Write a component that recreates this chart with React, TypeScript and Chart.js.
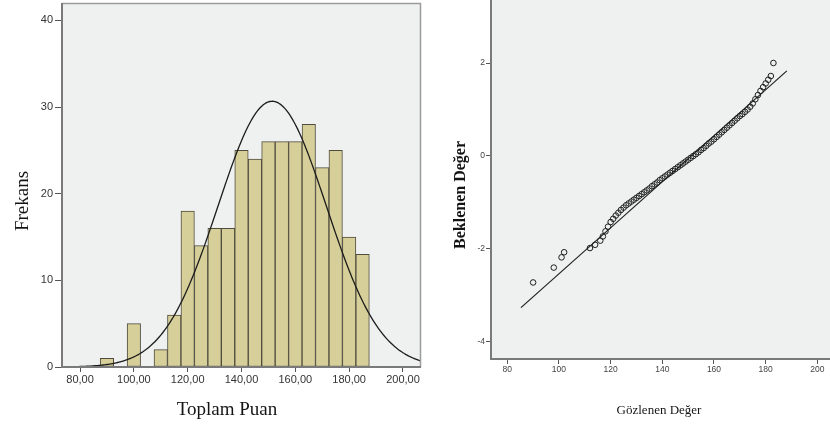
import React, { useEffect, useRef } from "react";
import { Chart, registerables } from "chart.js";

Chart.register(...registerables);

// ---------- Histogram data ----------
const BIN_CENTERS = [90, 95, 100, 105, 110, 115, 120, 125, 130, 135, 140, 145, 150, 155, 160, 165, 170, 175, 180, 185];
const BIN_COUNTS = [1, 0, 5, 0, 2, 6, 18, 14, 16, 16, 25, 24, 26, 26, 26, 28, 23, 25, 15, 13];
const HIST_X_TICKS = [80, 100, 120, 140, 160, 180, 200];
const HIST_X_LABELS = ["80,00", "100,00", "120,00", "140,00", "160,00", "180,00", "200,00"];
const HIST_Y_TICKS = [0, 10, 20, 30, 40];
const NORMAL_MEAN = 151.4;
const NORMAL_SD = 20.1;
const NORMAL_N = 309;
const BIN_WIDTH = 5;

// ---------- Q-Q plot data ----------
const QQ_OBSERVED = [
  90, 98, 101, 102, 112, 114, 116, 117, 118, 119, 120, 121, 122, 123, 124, 125, 126, 127, 128, 129,
  130, 131, 132, 133, 134, 135, 136, 137, 138, 139, 140, 141, 142, 143, 144, 145, 146, 147, 148, 149,
  150, 151, 152, 153, 154, 155, 156, 157, 158, 159, 160, 161, 162, 163, 164, 165, 166, 167, 168, 169,
  170, 171, 172, 173, 174, 175, 176, 177, 178, 179, 180, 181, 182, 183,
];
const QQ_EXPECTED = [
  -2.72, -2.4, -2.18, -2.07, -1.98, -1.91, -1.82, -1.73, -1.62, -1.52, -1.42, -1.35, -1.28, -1.22, -1.16, -1.11, -1.06, -1.02, -0.98, -0.94,
  -0.9, -0.86, -0.82, -0.78, -0.74, -0.7, -0.65, -0.61, -0.57, -0.52, -0.48, -0.44, -0.4, -0.36, -0.32, -0.28, -0.24, -0.2, -0.16, -0.12,
  -0.08, -0.04, 0.0, 0.04, 0.08, 0.13, 0.17, 0.22, 0.27, 0.31, 0.36, 0.41, 0.46, 0.51, 0.56, 0.61, 0.66, 0.71, 0.76, 0.81,
  0.86, 0.9, 0.95, 1.0, 1.06, 1.13, 1.22, 1.31, 1.4, 1.48, 1.56, 1.64, 1.72, 2.0,
];
const QQ_LINE_X = [85.3, 188.2];
const QQ_LINE_Y = [-3.26, 1.83];
const QQ_X_TICKS = [80, 100, 120, 140, 160, 180, 200];
const QQ_Y_TICKS = [-4, -2, 0, 2];

// ---------- Text ----------
const HIST_X_TITLE = "Toplam Puan";
const HIST_Y_TITLE = "Frekans";
const QQ_X_TITLE = "Gözlenen Değer";
const QQ_Y_TITLE = "Beklenen Değer";

const TICK_FONT = "'Liberation Sans', Arial, sans-serif";
const TITLE_FONT = "'Liberation Serif', 'Times New Roman', serif";
const PLOT_BG = "#eff0f0";

type TitleSpec = { text: string; x: number; y: number; font: string; rotate?: boolean };

function makeFramePlugin(titles: TitleSpec[], drawTopRight: boolean) {
  return {
    id: "frameAndTitles",
    beforeDraw(chart: any) {
      const { ctx, chartArea: a } = chart;
      ctx.save();
      ctx.fillStyle = PLOT_BG;
      ctx.fillRect(a.left, a.top, a.right - a.left, a.bottom - a.top);
      ctx.restore();
    },
    afterDraw(chart: any) {
      const { ctx, chartArea: a } = chart;
      ctx.save();
      if (drawTopRight) {
        ctx.strokeStyle = "#9c9c9c";
        ctx.lineWidth = 1.5;
        ctx.beginPath();
        ctx.moveTo(a.left, a.top + 0.5);
        ctx.lineTo(a.right - 0.5, a.top + 0.5);
        ctx.lineTo(a.right - 0.5, a.bottom);
        ctx.stroke();
      }
      ctx.strokeStyle = "#7a7a7a";
      ctx.lineWidth = 2;
      ctx.beginPath();
      ctx.moveTo(a.left, a.top);
      ctx.lineTo(a.left, a.bottom);
      ctx.lineTo(a.right, a.bottom);
      ctx.stroke();
      for (const t of titles) {
        ctx.save();
        ctx.font = t.font;
        ctx.fillStyle = "#141414";
        ctx.textAlign = "center";
        ctx.textBaseline = "alphabetic";
        ctx.translate(t.x, t.y);
        if (t.rotate) ctx.rotate(-Math.PI / 2);
        ctx.fillText(t.text, 0, 0);
        ctx.restore();
      }
      ctx.restore();
    },
  };
}

function fixX(height: number) {
  return (s: any) => {
    s.height = height;
    s.paddingLeft = 0;
    s.paddingRight = 0;
    s.paddingTop = 0;
    s.paddingBottom = 0;
  };
}

function fixY(width: number) {
  return (s: any) => {
    s.width = width;
    s.paddingLeft = 0;
    s.paddingRight = 0;
    s.paddingTop = 0;
    s.paddingBottom = 0;
  };
}

function normalCurve() {
  const pts: { x: number; y: number }[] = [];
  const k = (NORMAL_N * BIN_WIDTH) / (NORMAL_SD * Math.sqrt(2 * Math.PI));
  for (let x = 72; x <= 208; x += 0.5) {
    const z = (x - NORMAL_MEAN) / NORMAL_SD;
    pts.push({ x, y: k * Math.exp(-0.5 * z * z) });
  }
  return pts;
}

function histConfig(): any {
  return {
    type: "bar",
    data: {
      datasets: [
        {
          type: "line",
          data: normalCurve(),
          borderColor: "#1c1c1c",
          borderWidth: 1.3,
          pointRadius: 0,
          order: 0,
        },
        {
          type: "bar",
          data: BIN_CENTERS.map((x, i) => ({ x, y: BIN_COUNTS[i] })),
          backgroundColor: "#d7cf99",
          borderColor: "#4f4c3e",
          borderWidth: 1,
          borderSkipped: false,
          barPercentage: 1,
          categoryPercentage: 1,
          order: 1,
        },
      ],
    },
    options: {
      responsive: false,
      animation: false,
      devicePixelRatio: 1,
      layout: { autoPadding: false, padding: { left: 0, top: 3, right: 4, bottom: 0 } },
      plugins: { legend: { display: false }, tooltip: { enabled: false } },
      scales: {
        x: {
          type: "linear",
          min: 73.3,
          max: 206.7,
          offset: false,
          afterBuildTicks: (s: any) => {
            s.ticks = HIST_X_TICKS.map((v) => ({ value: v }));
          },
          afterFit: fixX(61),
          grid: { drawOnChartArea: false, drawTicks: true, tickLength: 5, color: "#555", offset: false },
          border: { display: false },
          ticks: {
            font: { family: TICK_FONT, size: 11 },
            color: "#333",
            padding: 1,
            maxRotation: 0,
            autoSkip: false,
            callback: (_v: any, i: number) => HIST_X_LABELS[i],
          },
        },
        y: {
          type: "linear",
          min: 0,
          max: 42,
          afterBuildTicks: (s: any) => {
            s.ticks = HIST_Y_TICKS.map((v) => ({ value: v }));
          },
          afterFit: fixY(62),
          grid: { drawOnChartArea: false, drawTicks: true, tickLength: 7, color: "#555" },
          border: { display: false },
          ticks: {
            font: { family: TICK_FONT, size: 11 },
            color: "#333",
            padding: 2,
            autoSkip: false,
          },
        },
      },
    },
    plugins: [
      makeFramePlugin(
        [
          { text: HIST_X_TITLE, x: 227, y: 415, font: `19px ${TITLE_FONT}` },
          { text: HIST_Y_TITLE, x: 28, y: 201, font: `19px ${TITLE_FONT}`, rotate: true },
        ],
        true
      ),
    ],
  };
}

function qqConfig(): any {
  return {
    type: "scatter",
    data: {
      datasets: [
        {
          data: QQ_OBSERVED.map((x, i) => ({ x, y: QQ_EXPECTED[i] })),
          pointStyle: "circle",
          pointRadius: 2.8,
          pointBorderWidth: 1,
          pointBorderColor: "#1e1e1e",
          pointBackgroundColor: "rgba(0,0,0,0)",
          showLine: false,
          order: 0,
        },
        {
          data: QQ_LINE_X.map((x, i) => ({ x, y: QQ_LINE_Y[i] })),
          showLine: true,
          borderColor: "#222",
          borderWidth: 1.2,
          pointRadius: 0,
          order: 1,
        },
      ],
    },
    options: {
      responsive: false,
      animation: false,
      devicePixelRatio: 1,
      layout: { autoPadding: false, padding: { left: 0, top: 0, right: 0, bottom: 0 } },
      plugins: { legend: { display: false }, tooltip: { enabled: false } },
      scales: {
        x: {
          type: "linear",
          min: 73.7,
          max: 204.9,
          afterBuildTicks: (s: any) => {
            s.ticks = QQ_X_TICKS.map((v) => ({ value: v }));
          },
          afterFit: fixX(69),
          grid: { drawOnChartArea: false, drawTicks: true, tickLength: 5, color: "#555" },
          border: { display: false },
          ticks: {
            font: { family: TICK_FONT, size: 8.5 },
            color: "#444",
            padding: 1,
            maxRotation: 0,
            autoSkip: false,
          },
        },
        y: {
          type: "linear",
          min: -4.366,
          max: 3.355,
          afterBuildTicks: (s: any) => {
            s.ticks = QQ_Y_TICKS.map((v) => ({ value: v }));
          },
          afterFit: fixY(66),
          grid: { drawOnChartArea: false, drawTicks: true, tickLength: 5, color: "#555" },
          border: { display: false },
          ticks: {
            font: { family: TICK_FONT, size: 8.5 },
            color: "#444",
            padding: 1,
            autoSkip: false,
          },
        },
      },
    },
    plugins: [
      makeFramePlugin(
        [
          { text: QQ_X_TITLE, x: 234, y: 414, font: `13px ${TITLE_FONT}` },
          { text: QQ_Y_TITLE, x: 40, y: 195, font: `bold 16px ${TITLE_FONT}`, rotate: true },
        ],
        false
      ),
    ],
  };
}

export default function App() {
  const leftRef = useRef<HTMLCanvasElement>(null);
  const rightRef = useRef<HTMLCanvasElement>(null);

  useEffect(() => {
    const c1 = new Chart(leftRef.current as HTMLCanvasElement, histConfig());
    const c2 = new Chart(rightRef.current as HTMLCanvasElement, qqConfig());
    return () => {
      c1.destroy();
      c2.destroy();
    };
  }, []);

  return (
    <div
      style={{
        position: "absolute",
        left: 0,
        top: 0,
        width: 830,
        height: 428,
        background: "#ffffff",
        overflow: "hidden",
      }}
    >
      <canvas
        ref={leftRef}
        width={425}
        height={428}
        style={{ position: "absolute", left: 0, top: 0, width: 425, height: 428 }}
      />
      <canvas
        ref={rightRef}
        width={405}
        height={428}
        style={{ position: "absolute", left: 425, top: 0, width: 405, height: 428 }}
      />
    </div>
  );
}
